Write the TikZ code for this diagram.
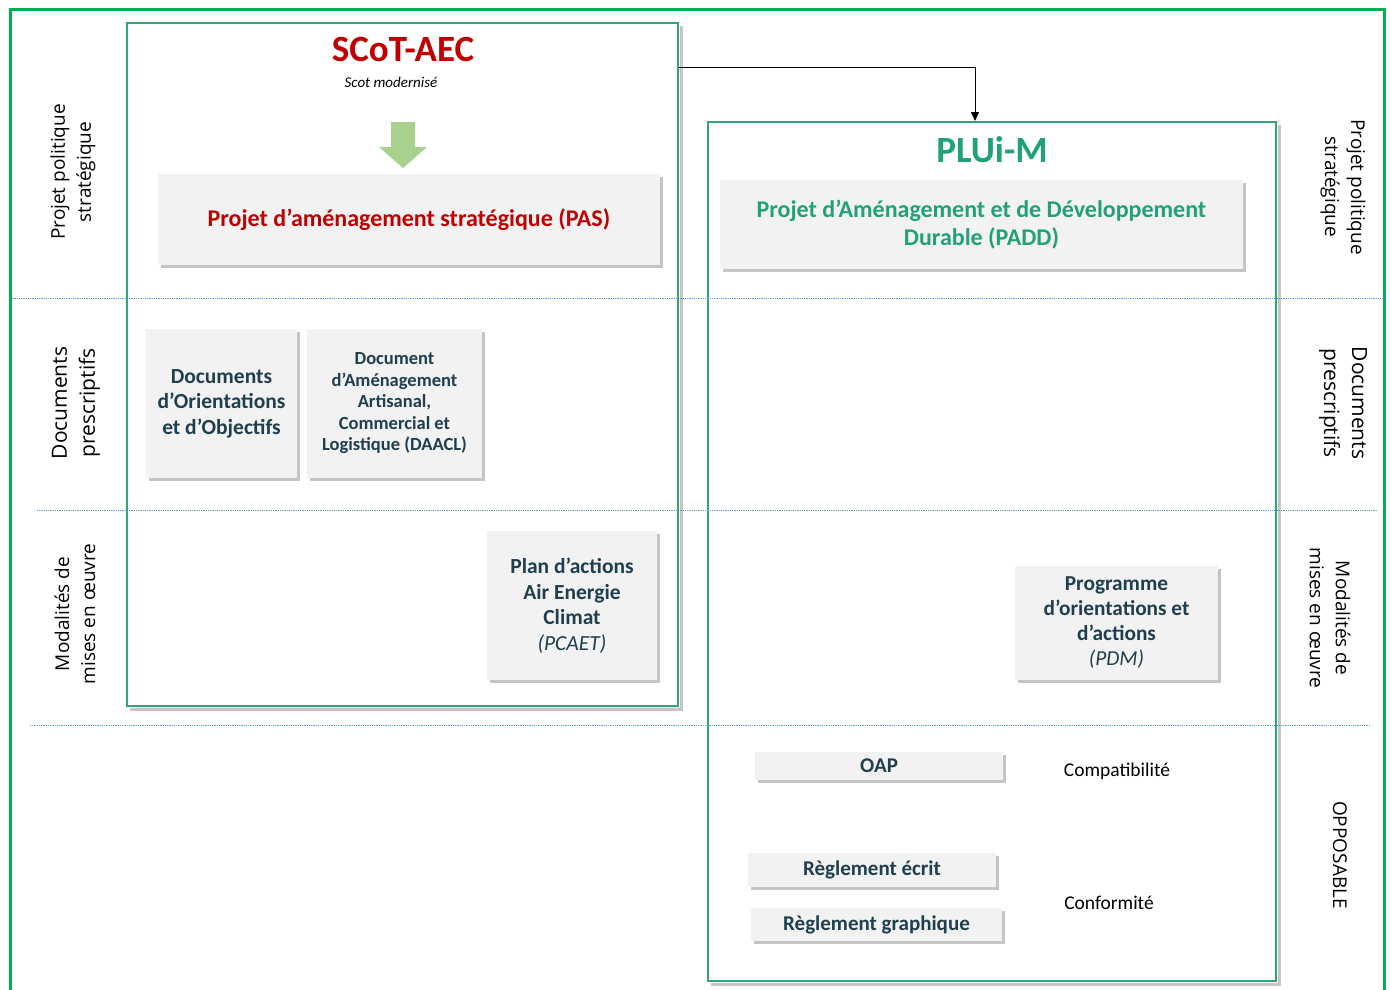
\documentclass[tikz,border=0pt]{standalone}
\usepackage{fontspec}
\setmainfont{Carlito}
\newfontfamily\osans{Open Sans}
\usetikzlibrary{shadows,arrows.meta}
\definecolor{outergreen}{HTML}{00B050}
\definecolor{boxgreen}{HTML}{2AA876}
\definecolor{titlered}{HTML}{C00000}
\definecolor{paddgreen}{HTML}{21A17A}
\definecolor{slate}{HTML}{1F3F4F}
\definecolor{boxfill}{HTML}{F2F2F2}
\definecolor{dashblue}{HTML}{5B9BD5}
\definecolor{arrowgreen}{HTML}{A9D18E}
\tikzset{
  frame/.style={draw=boxgreen, line width=2pt, inner sep=0pt},
  frameshadow/.style={draw=black!45, line width=3pt, opacity=0.5},
  card/.style={fill=boxfill, align=center, inner sep=2pt, drop shadow={shadow xshift=3pt, shadow yshift=-3pt, opacity=0.45}, text=slate, font=\bfseries\fontsize{21.5}{25.5}\selectfont},
  sep/.style={dashblue, densely dotted, line width=0.8pt},
  lbl/.style={align=center, font=\osans\fontsize{19}{26}\selectfont},
  plain/.style={font=\fontsize{19.5}{22}\selectfont}
}
\begin{document}
\begin{tikzpicture}[x=1pt,y=-1pt]
\useasboundingbox (0,0) rectangle (1390,990);
\fill[white] (0,0) rectangle (1390,990);
% outer border
\draw[outergreen, line width=3pt] (10,1000) -- (10,10) -- (1384,10) -- (1384,1000);
% frames
\node[frame, minimum width=551pt, minimum height=683pt] (scot) at (402.5,364.5) {};
\node[frame, minimum width=568pt, minimum height=859pt] (plui) at (992,551.5) {};
\draw[frameshadow] ([shift={(2.5pt,-4pt)}]scot.north east) -- ([shift={(2.5pt,-2.5pt)}]scot.south east) -- ([shift={(4pt,-2.5pt)}]scot.south west);
\draw[frameshadow] ([shift={(2.5pt,-4pt)}]plui.north east) -- ([shift={(2.5pt,-2.5pt)}]plui.south east) -- ([shift={(4pt,-2.5pt)}]plui.south west);
% separators
\draw[sep] (10,298) -- (1384,298);
\draw[sep] (37,510) -- (1378,510);
\draw[sep] (30,725) -- (1370,725);
% titles
\node[text=titlered, font=\bfseries\fontsize{37}{40}\selectfont] (scott) at (403,50) {SCoT-AEC};
\node[font=\itshape\fontsize{15}{17}\selectfont] (scotsub) at (391,82) {Scot modernisé};
\node[text=paddgreen, font=\bfseries\fontsize{37}{40}\selectfont] (pluit) at (992,150) {PLUi-M};
% green arrow
\fill[arrowgreen] (391,122) -- (415,122) -- (415,147) -- (427,147) -- (403,168) -- (379,147) -- (391,147) -- cycle;
% connector
\draw[line width=0.8pt, -{Triangle[length=9pt,width=8pt]}] ([yshift=-45pt]scot.north east) -| ([xshift=-17pt]plui.north);
% cards
\node[card, minimum width=502pt, minimum height=91pt, text=titlered, font=\bfseries\fontsize{24}{28}\selectfont] (pas) at (409,219.5) {Projet d’aménagement stratégique (PAS)};
\node[card, minimum width=523pt, minimum height=89pt, text=paddgreen, font=\bfseries\fontsize{24}{28.5}\selectfont] (padd) at (981.5,224.5) {Projet d’Aménagement et de Développement\\Durable (PADD)};
\node[card, minimum width=151pt, minimum height=149pt] (doo) at (221.5,403.5) {Documents\\d’Orientations\\et d’Objectifs};
\node[card, minimum width=175pt, minimum height=149pt, font=\bfseries\fontsize{18.5}{21.5}\selectfont] (daacl) at (394.5,403.5) {Document\\d’Aménagement\\Artisanal,\\Commercial et\\Logistique (DAACL)};
\node[card, minimum width=170pt, minimum height=149pt] (pcaet) at (572,605.5) {Plan d’actions\\Air Energie\\Climat\\{\mdseries\itshape (PCAET)}};
\node[card, minimum width=203pt, minimum height=114pt, font=\bfseries\fontsize{21.3}{25}\selectfont] (pdm) at (1116.5,623) {Programme\\d’orientations et\\d’actions\\{\mdseries\itshape (PDM)}};
\node[card, minimum width=248pt, minimum height=28pt, font=\bfseries\fontsize{21}{24}\selectfont] (oap) at (879,766) {OAP};
\node[card, minimum width=248pt, minimum height=34pt, font=\bfseries\fontsize{21}{24}\selectfont] (recrit) at (872,870) {Règlement écrit};
\node[card, minimum width=251pt, minimum height=33pt, font=\bfseries\fontsize{21}{24}\selectfont] (rgraph) at (876.5,924.5) {Règlement graphique};
% side texts
\node[plain] (compat) at (1117,771) {Compatibilité};
\node[plain] (conf) at (1109,903) {Conformité};
\node[lbl, rotate=90] (l1) at (73,172) {Projet politique\\stratégique};
\node[lbl, rotate=90, font=\osans\fontsize{21}{28}\selectfont] (l2) at (76,403) {Documents\\prescriptifs};
\node[lbl, rotate=90] (l3) at (75,614) {Modalités de\\mises en œuvre};
\node[lbl, rotate=-90] (r1) at (1343,187) {Projet politique\\stratégique};
\node[lbl, rotate=-90, font=\osans\fontsize{21}{28}\selectfont] (r2) at (1343,403) {Documents\\prescriptifs};
\node[lbl, rotate=-90] (r3) at (1330,618) {Modalités de\\mises en œuvre};
\node[lbl, rotate=-90] (r4) at (1340,855) {OPPOSABLE};
\end{tikzpicture}
\end{document}
